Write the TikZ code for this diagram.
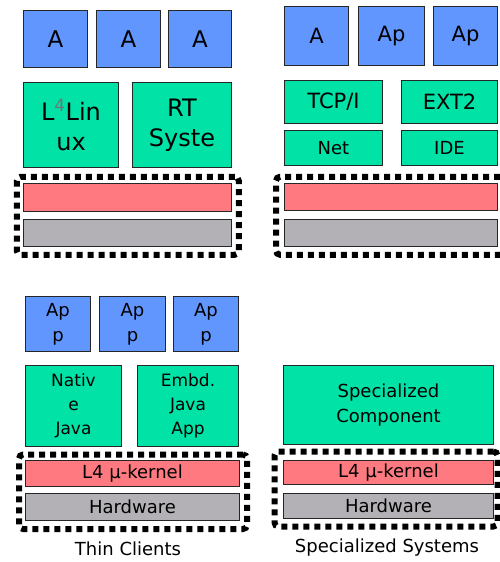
\documentclass[tikz,border=0pt]{standalone}
\usepackage{fontspec}
\setmainfont{DejaVu Sans}
\usetikzlibrary{positioning}
\definecolor{appblue}{RGB}{98,150,255}
\definecolor{compgreen}{RGB}{0,226,166}
\definecolor{kernred}{RGB}{255,122,128}
\definecolor{hwgray}{RGB}{179,177,181}
\begin{document}
\begin{tikzpicture}[x=1pt, y=-1pt,
			blk/.style={rectangle, draw=black!85, line width=1.5pt, inner sep=0pt,
				align=center, text=black},
			app/.style={blk, fill=appblue},
			comp/.style={blk, fill=compgreen},
			kern/.style={blk, fill=kernred, font=\fontsize{18}{22}\selectfont},
			hw/.style={blk, fill=hwgray, font=\fontsize{18}{22}\selectfont},
			dashbox/.style={rectangle, draw=black, line width=6pt,
				dash pattern=on 6pt off 5pt, rounded corners=4pt, inner sep=0pt},
			sysname/.style={font=\fontsize{18}{22}\selectfont}
			]
			\useasboundingbox (0,0) rectangle (500,562);
			\clip (0,0) rectangle (500,562);
			
			% top left
			\node[dashbox, minimum width=222pt, minimum height=78pt] (tlframe) at (127.75,215.75) {};
			\node[app, minimum width=64pt, minimum height=57pt, font=\fontsize{23}{28}\selectfont] (tlapp1) at (55.5,39) {A};
			\node[app, minimum width=64pt, minimum height=57pt, font=\fontsize{23}{28}\selectfont] (tlapp2) at (128.5,39) {A};
			\node[app, minimum width=63pt, minimum height=57pt, font=\fontsize{23}{28}\selectfont] (tlapp3) at (200,39) {A};
			\node[comp, minimum width=95pt, minimum height=85pt, font=\fontsize{24}{30}\selectfont] (tllinux) at (71,125) {L\textsuperscript{\textcolor{black!55}{4}}Lin\\ux};
			\node[comp, minimum width=99pt, minimum height=85pt, font=\fontsize{24}{30}\selectfont] (tlrt) at (182,125) {RT\\Syste};
			\node[kern, minimum width=208pt, minimum height=28pt] (tlkern) at (127.5,197.5) {};
			\node[hw, minimum width=208pt, minimum height=27pt] (tlhw) at (127.5,233) {};
			
			% top right
			\node[dashbox, minimum width=228pt, minimum height=78pt] (trframe) at (390,215.75) {};
			\node[app, minimum width=64pt, minimum height=59pt, font=\fontsize{21}{26}\selectfont] (trapp1) at (316.5,36) {A};
			\node[app, minimum width=66pt, minimum height=59pt, font=\fontsize{21}{26}\selectfont] (trapp2) at (391.5,36) {Ap};
			\node[app, minimum width=64pt, minimum height=59pt, font=\fontsize{21}{26}\selectfont] (trapp3) at (465.5,36) {Ap};
			\node[comp, minimum width=98pt, minimum height=43pt, font=\fontsize{21}{26}\selectfont] (trtcp) at (333.5,102) {TCP/I};
			\node[comp, minimum width=96pt, minimum height=43pt, font=\fontsize{21}{26}\selectfont] (trext) at (449.5,102) {EXT2};
			\node[comp, minimum width=98pt, minimum height=35pt, font=\fontsize{18}{22}\selectfont] (trnet) at (333.5,148) {Net};
			\node[comp, minimum width=96pt, minimum height=35pt, font=\fontsize{18}{22}\selectfont] (tride) at (449.5,148) {IDE};
			\node[kern, minimum width=213pt, minimum height=27pt] (trkern) at (391,197) {};
			\node[hw, minimum width=213pt, minimum height=27pt] (trhw) at (391,233) {};
			
			% bottom left: thin clients
			\node[dashbox, minimum width=228pt, minimum height=74.5pt] (blframe) at (133,491.75) {};
			\node[app, minimum width=65pt, minimum height=55pt, font=\fontsize{18}{25}\selectfont] (blapp1) at (58,324) {Ap\\p};
			\node[app, minimum width=66pt, minimum height=55pt, font=\fontsize{18}{25}\selectfont] (blapp2) at (132.5,324) {Ap\\p};
			\node[app, minimum width=65pt, minimum height=55pt, font=\fontsize{18}{25}\selectfont] (blapp3) at (206,324) {Ap\\p};
			\node[comp, minimum width=96pt, minimum height=81pt, font=\fontsize{17}{24}\selectfont] (blnative) at (73.5,406) {Nativ\\e\\Java};
			\node[comp, minimum width=101pt, minimum height=81pt, font=\fontsize{17}{24}\selectfont] (blembd) at (188,406) {Embd.\\Java\\App};
			\node[kern, minimum width=214pt, minimum height=26pt] (blkern) at (132.5,473.5) {L4 µ-kernel};
			\node[hw, minimum width=214pt, minimum height=27pt] (blhw) at (132.5,507) {Hardware};
			\node[sysname] (blname) at (128,549) {Thin Clients};
			
			% bottom right: specialized systems
			\node[dashbox, minimum width=223pt, minimum height=75pt] (brframe) at (386,489) {};
			\node[comp, minimum width=210pt, minimum height=79pt, font=\fontsize{18}{25}\selectfont] (brspec) at (388.5,405) {Specialized\\Component};
			\node[kern, minimum width=210pt, minimum height=24pt] (brkern) at (388.5,472.5) {L4 µ-kernel};
			\node[hw, minimum width=210pt, minimum height=25pt] (brhw) at (388.5,506) {Hardware};
			\node[sysname] (brname) at (387,548) {Specialized Systems};
		\end{tikzpicture}
\end{document}
